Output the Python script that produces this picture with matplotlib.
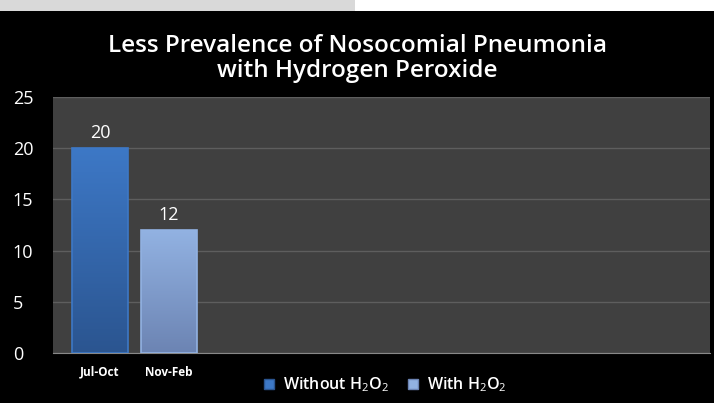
import matplotlib.pyplot as plt
import numpy as np
from matplotlib.patches import Rectangle

# datos
periodos = ["Jul-Oct", "Nov-Feb"]
valores = [20, 12]
series = ["Without H$_2$O$_2$", "With H$_2$O$_2$"]
colores_top = ["#3d78c6", "#92b2e2"]
colores_bot = ["#2b5590", "#6c84b3"]

plt.rcParams["font.family"] = ["Open Sans", "DejaVu Sans"]
plt.rcParams["mathtext.fontset"] = "custom"
plt.rcParams["mathtext.rm"] = "Open Sans"

fig = plt.figure(figsize=(7.14, 4.03), dpi=100)
fig.patch.set_facecolor("black")

# franja superior gris / blanca
fig.patches.append(Rectangle((0, 1 - 11 / 403), 1, 11 / 403, transform=fig.transFigure,
                             facecolor="white", edgecolor="none", zorder=0))
fig.patches.append(Rectangle((0, 1 - 11 / 403), 355 / 714, 11 / 403, transform=fig.transFigure,
                             facecolor="#d9d9d9", edgecolor="none", zorder=1))

ax = fig.add_axes([53 / 714, 50 / 403, 657 / 714, 256 / 403])
ax.set_facecolor("#404040")

x = np.arange(len(periodos))
barras = ax.bar(x, valores, width=0.8, color="none", zorder=3, label=None)

# gradiente en cada barra
for i, b in enumerate(barras):
    c1 = np.array(plt.matplotlib.colors.to_rgb(colores_top[i]))
    c2 = np.array(plt.matplotlib.colors.to_rgb(colores_bot[i]))
    t = np.linspace(0, 1, 100)[:, None]
    grad = (c1 * (1 - t) + c2 * t)[:, None, :]
    x0, w, h = b.get_x(), b.get_width(), b.get_height()
    im = ax.imshow(grad, extent=[x0, x0 + w, 0, h], aspect="auto", zorder=3)
    im.set_clip_path(b)
    ax.add_patch(Rectangle((x0, 0), w, h, facecolor="none", edgecolor=colores_top[i],
                           linewidth=1.2, zorder=4))
    ax.text(x[i], valores[i] + 0.6, str(valores[i]), ha="center", va="bottom",
            color="white", fontsize=13)

ax.set_xlim(-0.68, 8.84)
ax.set_ylim(0, 25)
ax.set_yticks([0, 5, 10, 15, 20, 25])
ax.yaxis.grid(True, color="#5e5e5e", linewidth=1)
ax.set_axisbelow(True)
ax.tick_params(axis="y", colors="white", labelsize=13, length=0, pad=29)
for lbl in ax.get_yticklabels():
    lbl.set_horizontalalignment("left")
ax.set_xticks(x)
ax.set_xticklabels(periodos, fontsize=8.5, fontweight="bold", color="white")
ax.tick_params(axis="x", length=0, pad=9)
for s in ["top", "right", "left"]:
    ax.spines[s].set_visible(False)
ax.spines["bottom"].set_color("#888888")

fig.text(0.5, 0.855, "Less Prevalence of Nosocomial Pneumonia\nwith Hydrogen Peroxide",
         ha="center", va="center", color="white", fontsize=17.5, linespacing=1.05,
         fontweight="semibold")

handles = [Rectangle((0, 0), 1, 1, facecolor=colores_top[i], edgecolor=colores_bot[i])
           for i in range(2)]
leg = fig.legend(handles, series, loc="center", bbox_to_anchor=(0.54, 0.045), ncol=2,
                 frameon=False, handlelength=0.6, handleheight=0.6,
                 handletextpad=0.6, columnspacing=1.2, labelcolor="white",
                 prop={"weight": "semibold", "size": 11.5})

fig.savefig("out.png", dpi=100, facecolor=fig.get_facecolor())
